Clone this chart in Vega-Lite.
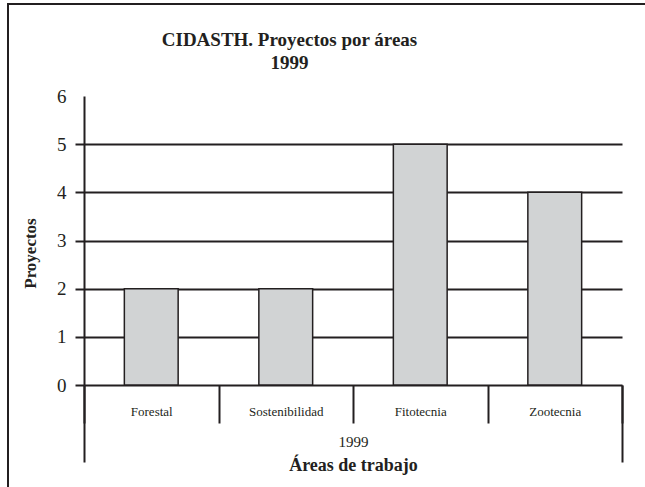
{
  "$schema": "https://vega.github.io/schema/vega-lite/v6.json",
  "width": 637,
  "height": 483,
  "autosize": {"type": "none"},
  "padding": {"left": 8, "top": 4, "right": 0, "bottom": 0},
  "background": "white",
  "title": {
    "text": ["CIDASTH. Proyectos por áreas", "1999"],
    "font": "Liberation Serif",
    "fontSize": 19,
    "fontWeight": "bold",
    "lineHeight": 23,
    "color": "#231f20",
    "anchor": "middle",
    "frame": "group",
    "dx": -37,
    "dy": 5,
    "offset": -64
  },
  "data": {
    "values": [
      {"area": "Forestal", "proyectos": 2},
      {"area": "Sostenibilidad", "proyectos": 2},
      {"area": "Fitotecnia", "proyectos": 5},
      {"area": "Zootecnia", "proyectos": 4}
    ]
  },
  "encoding": {
    "y": {
      "field": "proyectos",
      "type": "quantitative",
      "scale": {"domain": [0, 6], "range": [381, 92], "nice": false},
      "axis": {
        "values": [0, 1, 2, 3, 4, 5, 6],
        "offset": -76,
        "domainColor": "#231f20",
        "domainWidth": 2,
        "tickColor": "#231f20",
        "tickWidth": 2,
        "tickSize": 9,
        "tickOpacity": {"condition": {"test": "datum.value === 6", "value": 0}, "value": 1},
        "grid": true,
        "gridColor": "#231f20",
        "gridWidth": 2,
        "gridOpacity": {"condition": {"test": "datum.value === 6 || datum.value === 0", "value": 0}, "value": 1},
        "labelFont": "Liberation Serif",
        "labelFontSize": 19,
        "labelColor": "#231f20",
        "labelPadding": 9,
        "title": "Proyectos",
        "titleFont": "Liberation Serif",
        "titleFontSize": 17,
        "titleFontWeight": "bold",
        "titleColor": "#231f20",
        "titleX": -54,
        "titleY": 249,
        "titleAngle": -90,
        "titleAlign": "center",
        "titleBaseline": "middle"
      }
    }
  },
  "layer": [
    {
      "mark": {"type": "bar", "fill": "#d1d3d4", "stroke": "#231f20", "strokeWidth": 1.5, "width": {"band": 0.4}},
      "encoding": {
        "x": {
          "field": "area",
          "type": "nominal",
          "sort": ["Forestal", "Sostenibilidad", "Fitotecnia", "Zootecnia"],
          "scale": {"range": [76, 614], "paddingInner": 0, "paddingOuter": 0},
          "axis": {
            "orient": "bottom",
            "offset": -102,
            "domainColor": "#231f20",
            "domainWidth": 2,
            "tickBand": "extent",
            "tickColor": "#231f20",
            "tickWidth": 2,
            "tickSize": 38,
            "labelAngle": 0,
            "labelFont": "Liberation Serif",
            "labelFontSize": 13,
            "labelColor": "#231f20",
            "labelBaseline": "middle",
            "labelPadding": -12,
            "title": "1999",
            "titleFont": "Liberation Serif",
            "titleFontSize": 15,
            "titleFontWeight": "normal",
            "titleColor": "#231f20",
            "titleY": 56,
            "titleBaseline": "middle"
          }
        }
      }
    },
    {
      "mark": {"type": "bar", "opacity": 0, "width": {"band": 0.4}},
      "encoding": {
        "x": {
          "field": "area",
          "type": "nominal",
          "sort": ["Forestal", "Sostenibilidad", "Fitotecnia", "Zootecnia"],
          "scale": {"range": [76, 614], "paddingInner": 0, "paddingOuter": 0},
          "axis": {
            "orient": "bottom",
            "offset": -102,
            "domain": false,
            "labels": false,
            "grid": false,
            "tickBand": "extent",
            "tickColor": "#231f20",
            "tickWidth": 2,
            "tickSize": 77,
            "tickOpacity": {"condition": {"test": "datum.extra || datum.value === 'Zootecnia'", "value": 1}, "value": 0},
            "title": "Áreas de trabajo",
            "titleFont": "Liberation Serif",
            "titleFontSize": 18,
            "titleFontWeight": "bold",
            "titleColor": "#231f20",
            "titleY": 80,
            "titleBaseline": "middle"
          }
        }
      }
    }
  ],
  "resolve": {"axis": {"x": "independent"}},
  "config": {
    "font": "Liberation Serif",
    "view": {"stroke": "#231f20", "strokeWidth": 2, "strokeDash": [637, 1120, 483]}
  }
}
